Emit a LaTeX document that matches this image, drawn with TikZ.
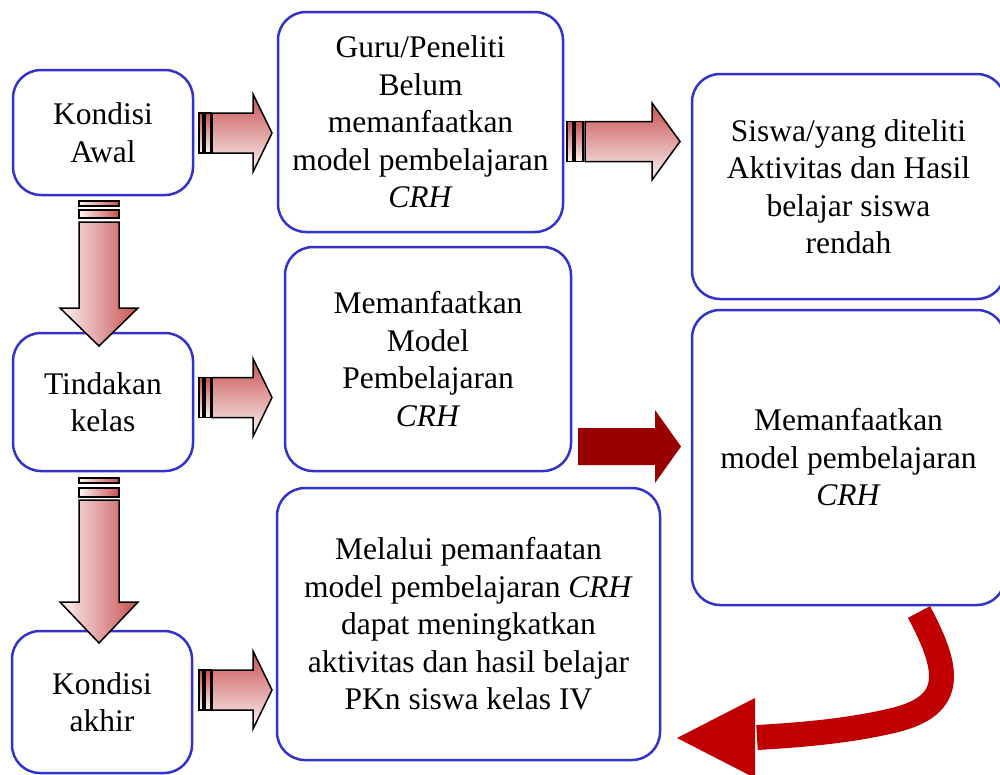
\documentclass[tikz,border=0pt]{standalone}
\usepackage{fontspec}
\setmainfont{Liberation Serif}
\definecolor{boxblue}{RGB}{51,51,204}
\definecolor{arrowred}{RGB}{200,80,80}
\definecolor{arrowpale}{RGB}{252,244,244}
\definecolor{solidred}{RGB}{153,0,0}
\definecolor{bendred}{RGB}{192,0,0}
\tikzset{
  kotak/.style={draw=boxblue,line width=2.5pt,fill=white,rounded corners=28pt,align=center,
    font=\fontsize{31.5}{37.5}\selectfont,inner sep=0pt},
  panahkanan/.style={top color=arrowred,bottom color=arrowpale,draw=black,line width=1.5pt},
  panahbawah/.style={left color=arrowpale,right color=arrowred,draw=black,line width=1.5pt}
}
\begin{document}
\begin{tikzpicture}[x=1pt,y=-1pt]
\useasboundingbox (0,0) rectangle (1000,774);
\fill[white] (0,0) rectangle (1000,774);
% kotak kiri
\node[kotak,minimum width=180pt,minimum height=125pt] (awal) at (103,132.5) {Kondisi\\Awal};
\node[kotak,minimum width=180pt,minimum height=138pt] (tindakan) at (103,402) {Tindakan\\kelas};
\node[kotak,minimum width=180pt,minimum height=142pt] (akhir) at (102,702) {Kondisi\\akhir};
% kotak tengah
\node[kotak,minimum width=285pt,minimum height=220pt] (guru) at (420.5,122) {Guru/Peneliti\\Belum\\memanfaatkan\\model pembelajaran\\\textit{CRH}};
\node[kotak,minimum width=286pt,minimum height=224pt] (model) at (428,359) {Memanfaatkan\\Model\\Pembelajaran\\\textit{CRH}};
\node[kotak,minimum width=383pt,minimum height=272pt] (melalui) at (468.5,624) {Melalui pemanfaatan\\model pembelajaran \textit{CRH}\\dapat meningkatkan\\aktivitas dan hasil belajar\\PKn siswa kelas IV};
% kotak kanan
\node[kotak,minimum width=313pt,minimum height=225pt] (siswa) at (848.5,186.5) {Siswa/yang diteliti\\Aktivitas dan Hasil\\belajar siswa\\rendah};
\node[kotak,minimum width=313pt,minimum height=295pt] (manfaat) at (848.5,457.5) {Memanfaatkan\\model pembelajaran\\\textit{CRH}};
% panah kecil ke kanan
\foreach \yc in {133,397.5,690} {
  \begin{scope}[shift={(199,\yc)}]
  \shadedraw[panahkanan] (0,-20) rectangle (4,20);
  \shadedraw[panahkanan] (6,-20) rectangle (12,20);
  \shadedraw[panahkanan] (13,-20) -- (54,-20) -- (54,-39) -- (73,0) -- (54,39) -- (54,20) -- (13,20) -- cycle;
  \end{scope}
}
% panah besar ke kanan
\begin{scope}[shift={(567,141.5)}]
\shadedraw[panahkanan] (0,-20) rectangle (6,20);
\shadedraw[panahkanan] (8,-20) rectangle (16,20);
\shadedraw[panahkanan] (18,-20) -- (85,-20) -- (85,-38.5) -- (113,0) -- (85,38.5) -- (85,20) -- (18,20) -- cycle;
\end{scope}
% panah ke bawah
\begin{scope}[shift={(99,201)}]
\shadedraw[panahbawah] (-20,0) rectangle (20,5);
\shadedraw[panahbawah] (-20,9) rectangle (20,17);
\shadedraw[panahbawah] (-20,21) -- (-20,107) -- (-39,107) -- (0,145) -- (39,107) -- (20,107) -- (20,21) -- cycle;
\end{scope}
\begin{scope}[shift={(99,478)}]
\shadedraw[panahbawah] (-20,0) rectangle (20,5);
\shadedraw[panahbawah] (-20,10) rectangle (20,19);
\shadedraw[panahbawah] (-20,22) -- (-20,124) -- (-39,124) -- (0,165) -- (39,124) -- (20,124) -- (20,22) -- cycle;
\end{scope}
% panah merah tua
\fill[solidred] (578,428) -- (655,428) -- (655,410) -- (681,446.5) -- (655,483) -- (655,465) -- (578,465) -- cycle;
% panah lengkung
\coordinate (ekor) at (919,612);
\coordinate (pangkal) at (757,737.5);
\draw[bendred,line width=25pt] (ekor) .. controls (950,670) and (955,705) .. (895,720) .. controls (850,731) and (800,735) .. (pangkal);
\fill[bendred] (755,698) -- (677,738) -- (755,778) -- cycle;
\end{tikzpicture}
\end{document}
